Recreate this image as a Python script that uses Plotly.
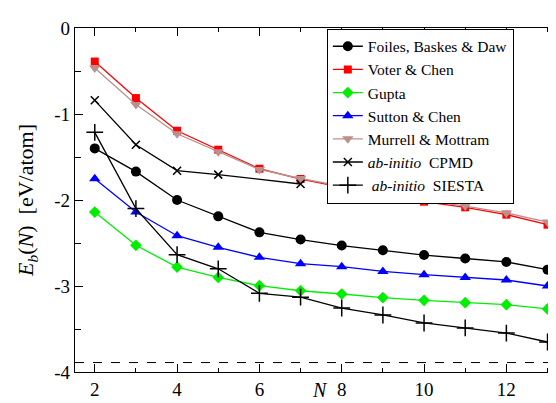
import plotly.graph_objects as go

N = list(range(2, 14))
foiles = [-1.40, -1.67, -2.00, -2.19, -2.376, -2.46, -2.53, -2.585, -2.64, -2.68, -2.72, -2.81]
voter = [-0.39, -0.815, -1.195, -1.415, -1.636, -1.756, -1.849, -1.946, -2.02, -2.085, -2.17, -2.287]
gupta = [-2.14, -2.527, -2.78, -2.90, -2.996, -3.055, -3.093, -3.135, -3.167, -3.194, -3.217, -3.267]
sutton = [-1.752, -2.14, -2.415, -2.55, -2.667, -2.74, -2.775, -2.83, -2.868, -2.90, -2.93, -3.00]
murrell = [-0.465, -0.89, -1.23, -1.44, -1.645, -1.75, -1.84, -1.93, -2.00, -2.07, -2.15, -2.256]
N_cpmd = [2, 3, 4, 5, 7]
cpmd = [-0.841, -1.357, -1.659, -1.705, -1.814]
siesta = [-1.213, -2.10, -2.636, -2.80, -3.085, -3.13, -3.256, -3.337, -3.43, -3.488, -3.547, -3.651]
bulk_energy = -3.89

x_ticks = [2, 4, 6, 8, 10, 12]
y_ticks = [0, -1, -2, -3, -4]
y_ticktext = ["0", "-1", "-2", "-3", "-4"]

FONT = "Times New Roman, Liberation Serif, DejaVu Serif, serif"

fig = go.Figure()

def add(x, y, name, color, symbol, size, thin=False):
    marker = dict(symbol=symbol, size=size, color=color)
    if thin:
        marker["line"] = dict(color=color, width=1.5)
    else:
        marker["line"] = dict(width=0)
    fig.add_trace(go.Scatter(x=x, y=y, name=name, mode="lines+markers",
                             line=dict(color=color, width=1.3), marker=marker))

add(N, foiles, "Foiles, Baskes &amp; Daw", "black", "circle", 10)
add(N, voter, "Voter &amp; Chen", "#ff0000", "square", 8)
add(N, gupta, "Gupta", "#00ee00", "diamond", 9)
add(N, sutton, "Sutton &amp; Chen", "#0000ff", "triangle-up", 10)
add(N, murrell, "Murrell &amp; Mottram", "#bc8f8f", "triangle-down", 10)
add(N_cpmd, cpmd, "<i>ab-initio</i>  CPMD", "black", "x-thin", 8, thin=True)
add(N, siesta, " <i>ab-initio</i>  SIESTA", "black", "cross-thin", 12, thin=True)

fig.add_shape(type="line", xref="paper", x0=0, x1=1, yref="y", y0=bulk_energy, y1=bulk_energy,
              line=dict(color="black", width=1, dash="dash"))

axis_common = dict(showgrid=False, zeroline=False, showline=True, linecolor="black", linewidth=1.2,
                   ticks="inside", ticklen=8, tickcolor="black", tickwidth=1.2, mirror="allticks",
                   tickfont=dict(family=FONT, size=19, color="black"))

fig.update_xaxes(range=[1.52, 13.4], tickvals=x_ticks,
                 minor=dict(dtick=1, ticks="inside", ticklen=4, tickcolor="black", tickwidth=1.2),
                 **axis_common)
fig.update_yaxes(range=[-4, 0], tickvals=y_ticks, ticktext=y_ticktext,
                 minor=dict(dtick=0.5, ticks="inside", ticklen=6, tickcolor="black", tickwidth=1.2),
                 title=dict(text="<i>E</i><sub><i>b</i></sub>(<i>N</i>)  [eV/atom]",
                            font=dict(family=FONT, size=22, color="black"), standoff=14),
                 **axis_common)

fig.add_annotation(text="<i>N</i>", xref="paper", yref="paper", x=0.501, y=-0.052,
                   xanchor="center", yanchor="middle", showarrow=False,
                   font=dict(family=FONT, size=20, color="black"))

fig.update_layout(
    width=556, height=403,
    margin=dict(l=67, r=0, t=20, b=39),
    plot_bgcolor="white", paper_bgcolor="white",
    font=dict(family=FONT, color="black"),
    legend=dict(x=0.515, y=0.998, xanchor="left", yanchor="top",
                bgcolor="white", bordercolor="black", borderwidth=1,
                font=dict(family=FONT, size=15.5, color="black"),
                tracegroupgap=0, itemwidth=30),
    showlegend=True,
)

fig.write_html("out.html")
